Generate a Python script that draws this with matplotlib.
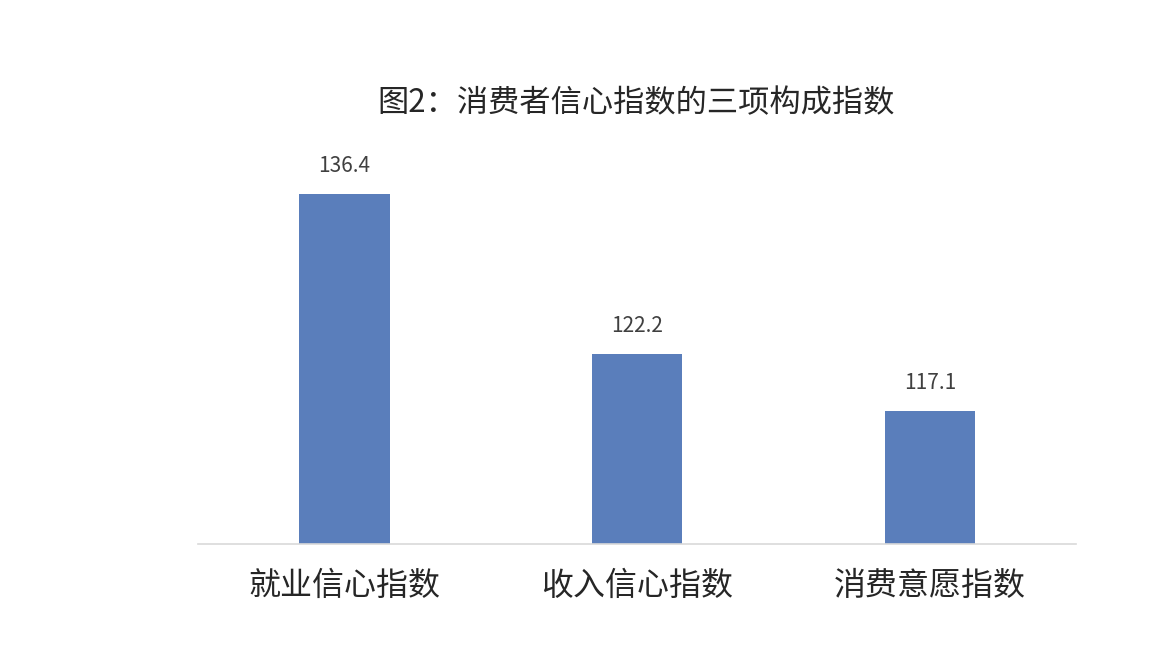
import matplotlib
matplotlib.use("Agg")
import matplotlib.pyplot as plt

plt.rcParams['font.family'] = ['Noto Sans CJK SC', 'DejaVu Sans']

# ----------------------------------------------------------------------
# Data
# ----------------------------------------------------------------------
categories = ["就业信心指数", "收入信心指数", "消费意愿指数"]
values = [136.4, 122.2, 117.1]
title = "图2：消费者信心指数的三项构成指数"

BAR_COLOR = "#5a7ebb"
TEXT_COLOR = "#262626"

fig = plt.figure(figsize=(11.7, 6.52), dpi=100)
ax = fig.add_axes([0.169, 0.166, 0.751, 0.604])

x = list(range(len(categories)))
ax.bar(x, values, width=0.31, color=BAR_COLOR, zorder=2)

for xi, v in zip(x, values):
    ax.annotate(f"{v:.1f}", (xi, v), textcoords="offset points",
                xytext=(0, 12), ha="center", va="bottom",
                fontsize=15, color="#404040")

ax.set_xlim(-0.5, len(categories) - 0.5)
ax.set_ylim(105.3, 140.3)
ax.set_xticks(x)
ax.set_xticklabels(categories, fontsize=23, color=TEXT_COLOR)
ax.tick_params(axis="x", length=0, pad=19)
ax.set_yticks([])

for side in ("top", "right", "left"):
    ax.spines[side].set_visible(False)
ax.spines["bottom"].set_color("#d9d9d9")
ax.spines["bottom"].set_linewidth(1.2)

fig.text(0.544, 0.842, title, ha="center", va="center",
         fontsize=22.5, color=TEXT_COLOR)

fig.savefig("out.png", dpi=100, facecolor="white")
